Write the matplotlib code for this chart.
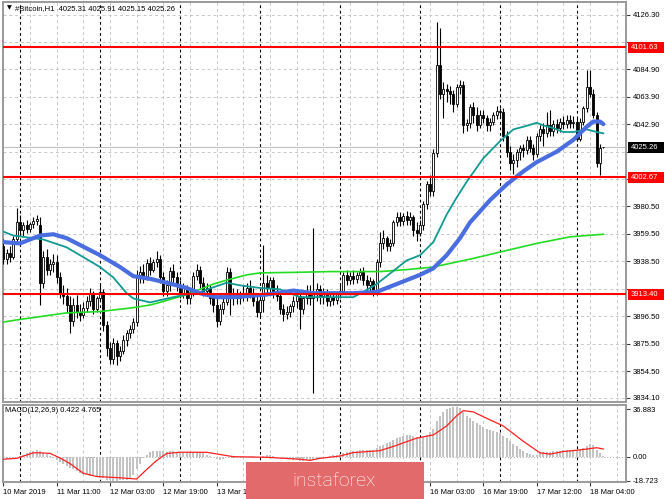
import matplotlib
matplotlib.use('Agg')
import matplotlib.pyplot as plt
import matplotlib.transforms as mtrans
from matplotlib.patches import Rectangle
import numpy as np

plt.rcParams['font.family'] = ['Liberation Sans', 'DejaVu Sans']

# ---------------- data ----------------
first_bar = -5
opens = [3950, 3940, 3945, 3942, 3955,
         3968, 3962, 3966, 3963, 3967, 3969, 3966, 3922, 3942, 3932,
         3936, 3938, 3926, 3914, 3912, 3905, 3893, 3905, 3900, 3897,
         3903, 3908, 3914, 3902, 3910, 3915, 3890, 3872, 3864, 3876,
         3866, 3870, 3878, 3884, 3887, 3892, 3928, 3930, 3926, 3937,
         3932, 3938, 3940, 3926, 3916, 3920, 3931, 3926, 3920, 3914,
         3918, 3910, 3915, 3927, 3932, 3922, 3916, 3918, 3910, 3905,
         3893, 3902, 3907, 3930, 3910, 3913, 3910, 3914, 3912, 3918,
         3914, 3908, 3900, 3909, 3922, 3918, 3924, 3914, 3912, 3902,
         3898, 3900, 3904, 3908, 3912, 3902, 3910, 3914, 3910, 3914,
         3917, 3912, 3914, 3908, 3911, 3909, 3914, 3916, 3928, 3924,
         3927, 3925, 3928, 3930, 3924, 3920, 3923, 3915, 3938, 3952,
         3956, 3950, 3952, 3968, 3972, 3969, 3973, 3970, 3972, 3962,
         3960, 3966, 3982, 3997, 3992, 4021, 4088, 4066, 4070, 4068,
         4066, 4058, 4071, 4073, 4042, 4044, 4056, 4050, 4042, 4050,
         4048, 4042, 4045, 4050, 4053, 4052, 4034, 4022, 4013, 4016,
         4022, 4025, 4023, 4031, 4025, 4020, 4034, 4039, 4036, 4042,
         4038, 4043, 4040, 4045, 4043, 4046, 4044, 4045, 4032, 4045,
         4055, 4071, 4066, 4050, 4013, 4025.31]
highs = [3955, 3948, 3950, 3958, 3979,
         3974, 3968, 3970, 3968, 3972, 3974, 3972, 3946, 3948, 3940,
         3944, 3943, 3930, 3920, 3918, 3912, 3910, 3913, 3906, 3907,
         3912, 3918, 3916, 3912, 3920, 3917, 3893, 3877, 3880, 3878,
         3874, 3882, 3886, 3890, 3895, 3932, 3935, 3936, 3940, 3942,
         3940, 3946, 3943, 3930, 3924, 3934, 3936, 3930, 3924, 3922,
         3920, 3918, 3930, 3936, 3935, 3926, 3922, 3920, 3913, 3910,
         3906, 3910, 3934, 3933, 3918, 3917, 3916, 3920, 3922, 3924,
         3918, 3913, 3912, 3951, 3928, 3926, 3926, 3920, 3914, 3906,
         3904, 3906, 3912, 3915, 3914, 3912, 3920, 3920, 3964, 3922,
         3920, 3918, 3917, 3914, 3916, 3916, 3920, 3930, 3932, 3930,
         3932, 3930, 3933, 3934, 3928, 3926, 3925, 3940, 3961, 3962,
         3958, 3955, 3970, 3976, 3976, 3975, 3977, 3976, 3974, 3968,
         3970, 3984, 4000, 4004, 4024, 4121, 4116, 4075, 4074, 4072,
         4069, 4074, 4077, 4076, 4047, 4058, 4060, 4056, 4054, 4054,
         4050, 4048, 4052, 4057, 4055, 4055, 4038, 4026, 4020, 4024,
         4027, 4028, 4034, 4034, 4028, 4036, 4042, 4044, 4052, 4054,
         4046, 4047, 4048, 4049, 4050, 4050, 4049, 4048, 4048, 4057,
         4084, 4084, 4070, 4052, 4028, 4025.91]
lows = [3936, 3936, 3938, 3940, 3952,
        3958, 3958, 3960, 3961, 3964, 3966, 3905, 3918, 3928, 3928,
        3930, 3922, 3910, 3906, 3900, 3884, 3889, 3895, 3893, 3895,
        3900, 3904, 3898, 3900, 3908, 3885, 3866, 3860, 3860, 3859,
        3862, 3868, 3874, 3880, 3884, 3889, 3922, 3922, 3924, 3928,
        3930, 3934, 3922, 3912, 3912, 3916, 3922, 3916, 3910, 3910,
        3906, 3906, 3912, 3924, 3918, 3912, 3912, 3906, 3900, 3888,
        3890, 3898, 3905, 3897, 3905, 3906, 3906, 3908, 3908, 3910,
        3904, 3896, 3896, 3900, 3914, 3914, 3910, 3908, 3898, 3893,
        3894, 3896, 3900, 3903, 3887, 3898, 3906, 3905, 3838, 3908,
        3906, 3906, 3904, 3904, 3905, 3906, 3910, 3914, 3920, 3921,
        3921, 3922, 3924, 3920, 3916, 3916, 3912, 3913, 3934, 3948,
        3946, 3946, 3950, 3965, 3965, 3966, 3966, 3966, 3958, 3954,
        3958, 3962, 3978, 3988, 3988, 4018, 4062, 4048, 4060, 4058,
        4052, 4056, 4066, 4036, 4038, 4040, 4044, 4038, 4040, 4044,
        4038, 4038, 4042, 4047, 4048, 4030, 4018, 4008, 4005, 4010,
        4016, 4018, 4020, 4022, 4016, 4018, 4030, 4026, 4033, 4034,
        4034, 4036, 4037, 4039, 4040, 4040, 4040, 4030, 4030, 4042,
        4052, 4064, 4048, 4010, 4004, 4025.15]
closes = [3940, 3945, 3942, 3955, 3968,
          3962, 3966, 3963, 3967, 3969, 3971, 3922, 3942, 3932, 3936,
          3938, 3926, 3914, 3912, 3905, 3893, 3905, 3900, 3897, 3903,
          3908, 3914, 3902, 3910, 3915, 3890, 3872, 3864, 3876, 3866,
          3870, 3878, 3884, 3887, 3892, 3928, 3930, 3926, 3937, 3932,
          3938, 3940, 3926, 3916, 3920, 3931, 3926, 3920, 3914, 3918,
          3910, 3915, 3927, 3932, 3922, 3916, 3918, 3910, 3905, 3893,
          3902, 3907, 3930, 3910, 3913, 3910, 3914, 3912, 3918, 3914,
          3908, 3900, 3909, 3922, 3918, 3924, 3914, 3912, 3902, 3898,
          3900, 3904, 3908, 3912, 3902, 3910, 3914, 3910, 3914, 3917,
          3912, 3914, 3908, 3911, 3909, 3914, 3916, 3928, 3924, 3927,
          3925, 3928, 3930, 3924, 3920, 3923, 3915, 3938, 3952, 3956,
          3950, 3952, 3968, 3972, 3969, 3973, 3970, 3972, 3962, 3960,
          3966, 3982, 3997, 3992, 4021, 4088, 4066, 4070, 4068, 4066,
          4058, 4071, 4073, 4042, 4044, 4056, 4050, 4042, 4050, 4048,
          4042, 4045, 4050, 4053, 4052, 4034, 4022, 4013, 4016, 4022,
          4025, 4023, 4031, 4025, 4020, 4034, 4039, 4036, 4042, 4038,
          4043, 4040, 4045, 4043, 4046, 4044, 4045, 4032, 4045, 4055,
          4071, 4066, 4050, 4013, 4025, 4025.26]

# moving averages (bar index, price)
ma_blue_x = [-5, 0, 6, 10, 14, 24, 30, 34, 39, 44, 50, 54, 59, 64, 74, 82, 88, 93, 100,
             107, 110, 116, 120, 124, 128, 132, 135, 141, 146, 151, 155, 161, 166, 170,
             172, 174, 175]
ma_blue_y = [3953, 3952, 3958, 3959, 3956, 3943, 3934, 3927, 3925, 3922, 3918, 3914, 3911,
             3911, 3913, 3916, 3914, 3914, 3914, 3915, 3918, 3924, 3928, 3933, 3943, 3956,
             3968, 3985, 3997, 4007, 4014, 4022, 4031, 4041, 4045, 4045, 4043]
ma_teal_x = [-5, -2, 4, 7, 14, 24, 28, 32, 34, 39, 46, 54, 62, 66, 72, 78, 84, 93, 100,
             103, 107, 112, 116, 120, 124, 128, 131, 134, 139, 144, 148, 151, 155, 157,
             160, 163, 166, 170, 173, 175]
ma_teal_y = [3961, 3958, 3956, 3955, 3949, 3934, 3926, 3914, 3910, 3907, 3911, 3915, 3922,
             3920, 3918, 3917, 3911, 3911, 3911, 3915, 3921, 3931, 3939, 3943, 3953, 3974,
             3987, 3999, 4017, 4030, 4039, 4041, 4044, 4042, 4040, 4037, 4037, 4039, 4037,
             4036]
ma_green_x = [-5, 0, 14, 24, 34, 39, 42, 46, 50, 54, 58, 62, 68, 72, 84, 93, 108, 116, 124,
              135, 145, 155, 165, 175]
ma_green_y = [3892, 3894, 3899, 3900, 3903, 3905, 3907, 3910, 3913, 3917, 3921, 3924, 3928,
              3929.5, 3930, 3930.5, 3930.5, 3932, 3934, 3940, 3946, 3952, 3957, 3959]

levels = [4101.63, 4002.67, 3913.40]
current_price = 4025.26

macd_hist = [-2.0, -2.0, -2.0, -1.5, -0.5,
             0.5, 1.5, 2.5, 3.5, 4.5, 5.0, 4.5, 3.0, 2.0, 0.5,
             -1.0, -2.5, -4.0, -5.5, -7.0, -8.5, -10.0, -11.0, -12.5, -13.5,
             -14.5, -15.0, -15.5, -16.0, -16.5, -17.0, -18.0, -18.5, -19.0, -19.0,
             -18.5, -18.0, -18.0, -17.0, -14.0, -10.0, -6.0, -1.0, 1.5, 3.5,
             4.5, 4.7, 4.5, 4.2, 4.0, 4.2, 4.3, 4.0, 3.8, 3.8,
             3.6, 3.5, 3.8, 4.0, 3.5, 2.5, 1.5, 0.5, -0.5, -1.5,
             -2.5, -2.0, -0.5, -0.5, -1.0, -1.0, -0.5, -0.5, 0.0, 0.5,
             0.3, -0.3, -0.5, 0.5, 1.0, 1.0, 0.5, 0.0, -0.5, -1.0,
             -1.5, -2.0, -2.3, -2.5, -3.0, -3.0, -2.8, -2.5, -2.0, -1.5,
             -1.0, -0.5, 0.0, 0.5, 1.0, 1.5, 2.0, 3.0, 3.5, 4.0,
             4.5, 4.7, 5.0, 5.3, 5.5, 5.5, 5.0, 6.5, 8.0, 9.5,
             10.5, 11.5, 13.0, 14.5, 15.5, 16.5, 17.0, 17.0, 16.5, 15.5,
             15.0, 15.5, 17.0, 19.0, 22.0, 28.0, 32.0, 35.0, 37.0, 38.0,
             38.5, 38.5, 38.0, 35.0, 32.0, 30.0, 28.0, 26.5, 25.0, 23.5,
             22.0, 21.0, 20.0, 19.0, 18.5, 16.5, 14.5, 12.0, 10.0, 8.0,
             6.0, 4.5, 3.0, 2.0, 1.5, 1.5, 2.5, 3.5, 4.0, 4.0,
             4.2, 4.5, 4.8, 5.0, 5.0, 5.2, 5.5, 5.5, 6.0, 7.0,
             8.5, 9.8, 9.0, 5.5, 2.5, 0.422]
signal_x = [-5, -1, 4, 6, 9, 12, 15, 19, 23, 30, 35, 38, 41, 44, 48, 56, 64, 74, 84, 87,
            90, 96, 100, 108, 112, 119, 124, 128, 131, 133, 136, 140, 145, 151, 156, 159,
            163, 168, 173, 175]
signal_y = [-2, -1.3, 3, 3, 2.6, -1, -5.4, -13, -15.5, -16.5, -17.5, -10, -3, 2.5, 3.5,
            3.4, 0, -0.5, -2, -2.9, -1.3, 0.5, 3.2, 4.7, 8, 14.5, 17, 24, 32, 36, 35, 30,
            24, 12, 3, 2, 4, 5.3, 7, 6]

price_ticks = [4126.30, 4105.60, 4084.90, 4063.90, 4042.90, 4021.90, 4001.50, 3980.50,
               3959.50, 3938.50, 3917.50, 3896.50, 3875.50, 3854.50, 3834.10]
# tick labels hidden behind the level boxes in the reference
hidden_tick_labels = [4105.60, 4021.90, 4001.50, 3917.50]
macd_ticks = [36.883, 0.0, -18.723]
macd_tick_labels = ['36.883', '0.00', '-18.723']
time_tick_bars = [-5, 11, 27, 43, 59, 75, 91, 107, 123, 139, 155, 171]
time_tick_labels = ['10 Mar 2019', '11 Mar 11:00', '12 Mar 03:00', '12 Mar 19:00',
                    '13 Mar 11:00', '14 Mar 03:00', '14 Mar 19:00', '15 Mar 11:00',
                    '16 Mar 03:00', '16 Mar 19:00', '17 Mar 12:00', '18 Mar 04:00']
day_separators = [0, 24, 48, 72, 96, 120, 144, 167]
title_text = '#Bitcoin,H1  4025.31 4025.91 4025.15 4025.26'
macd_title = 'MACD(12,26,9) 0.422 4.765'

# ---------------- layout ----------------
W, H = 665, 499
fig = plt.figure(figsize=(W / 100, H / 100), dpi=100)
fig.patch.set_facecolor('white')
L, R = 3, 626


def fx(px):
    return px / W


def fy(py):
    return 1 - py / H


ax = fig.add_axes([fx(L), fy(402), (R - L) / W, (402 - 2) / H])
axm = fig.add_axes([fx(L), fy(482), (R - L) / W, (482 - 405) / H])

xlim = (-5.1, 181.8)
ax.set_xlim(*xlim)
axm.set_xlim(*xlim)
ax.set_ylim(3831.0, 4136.2)
axm.set_ylim(-19.8, 40.4)

grid_c = '#c8c8c8'
grid_x = np.arange(-5, 182, 8)
for a in (ax, axm):
    for gx in grid_x:
        a.axvline(gx, color=grid_c, lw=0.7, ls=(0, (3, 3)), zorder=1)
    for sx in day_separators:
        a.axvline(sx, color='black', lw=0.8, ls=(0, (2.5, 2.5)), zorder=1.2)
    for sp in a.spines.values():
        sp.set_color('#9a9a9a')
        sp.set_linewidth(1.4)
for yt in price_ticks:
    ax.axhline(yt, color=grid_c, lw=0.7, ls=(0, (3, 3)), zorder=1)
axm.axhline(0, color='#a8a8a8', lw=0.7, ls=(0, (1, 2)), zorder=1)

# candles
bars = np.arange(first_bar, first_bar + len(opens))
o = np.array(opens, float)
c = np.array(closes, float)
h = np.array(highs, float)
lo = np.array(lows, float)
up = c >= o
ax.vlines(bars, lo, h, color='black', lw=0.8, zorder=3)
bottom = np.minimum(o, c)
height = np.maximum(np.abs(c - o), 0.5)
ax.bar(bars[up], height[up], bottom=bottom[up], width=0.62, facecolor='white',
       edgecolor='black', lw=0.6, zorder=3.5)
ax.bar(bars[~up], height[~up], bottom=bottom[~up], width=0.62, facecolor='black',
       edgecolor='black', lw=0.6, zorder=3.5)

# moving averages
ax.plot(ma_green_x, ma_green_y, color='#22dd22', lw=1.2, zorder=4)
ax.plot(ma_teal_x, ma_teal_y, color='#129a92', lw=1.3, zorder=4.2)
ax.plot(ma_blue_x, ma_blue_y, color='#4a6ee0', lw=3.0, zorder=4.4, solid_capstyle='round')

# levels
ax.axhline(current_price, color='#c0c0c0', lw=0.8, zorder=2)
for lvl in levels:
    ax.axhline(lvl, color='#ff0000', lw=1.5, zorder=5)

# right axis
ax.set_xticks([])
ax.yaxis.tick_right()
ax.set_yticks(price_ticks)
ax.set_yticklabels(['' if v in hidden_tick_labels else f'{v:.2f}' for v in price_ticks])
ax.tick_params(axis='y', length=3, pad=2, labelsize=5.5, color='#404040', width=0.8)

trans = mtrans.blended_transform_factory(ax.transAxes, ax.transData)
ppx = (4136.2 - 3831.0) / 400.0  # price units per pixel
box_w = 36 / (R - L)
box_x = 1 + 1.5 / (R - L)
for lvl, fc in [(levels[0], '#ff0000'), (current_price, '#000000'),
                (levels[1], '#ff0000'), (levels[2], '#ff0000')]:
    ax.add_patch(Rectangle((box_x, lvl - 5.5 * ppx), box_w, 11 * ppx, transform=trans,
                           facecolor=fc, edgecolor='none', clip_on=False, zorder=10))
    ax.text(1 + 5 / (R - L), lvl, f'{lvl:.2f}', transform=trans, ha='left', va='center',
            fontsize=5.5, color='white', zorder=11, clip_on=False)

# titles
ax.text((9 - L) / (R - L), 1 - 6 / 400, '\u25bc', transform=ax.transAxes, ha='center',
        va='center', fontsize=4.5, family='DejaVu Sans', color='black', zorder=12)
ax.text((15 - L) / (R - L), 1 - 6.5 / 400, title_text, transform=ax.transAxes, ha='left',
        va='center', fontsize=5.5, color='black', zorder=12)

# MACD
axm.bar(bars, macd_hist, width=0.6, color='#c3c3c3', zorder=2)
axm.plot(signal_x, signal_y, color='#ff2020', lw=0.9, zorder=3)
axm.text((5 - L) / (R - L), 1 - 6 / 77, macd_title, transform=axm.transAxes, ha='left',
         va='center', fontsize=5.5, color='black', zorder=12)
axm.yaxis.tick_right()
axm.set_yticks(macd_ticks)
axm.set_yticklabels(macd_tick_labels)
axm.tick_params(axis='y', length=3, pad=2, labelsize=5.5, color='#404040', width=0.8)
axm.set_xticks(time_tick_bars)
axm.set_xticklabels(time_tick_labels)
axm.tick_params(axis='x', length=3, pad=2, labelsize=5.5, color='#404040', width=0.8)
for lab in axm.get_xticklabels():
    lab.set_ha('left')

# watermark logo
fig.patches.append(Rectangle((fx(246), 0), (424 - 246) / W, 37 / H, transform=fig.transFigure,
                             facecolor='#e26a6a', edgecolor='none', zorder=20))
fig.text(fx(334), fy(481), 'instaforex', color='white', fontsize=14, ha='center',
         va='center', family='Roboto', fontweight='light', zorder=21)

fig.savefig('out.png', dpi=100)
